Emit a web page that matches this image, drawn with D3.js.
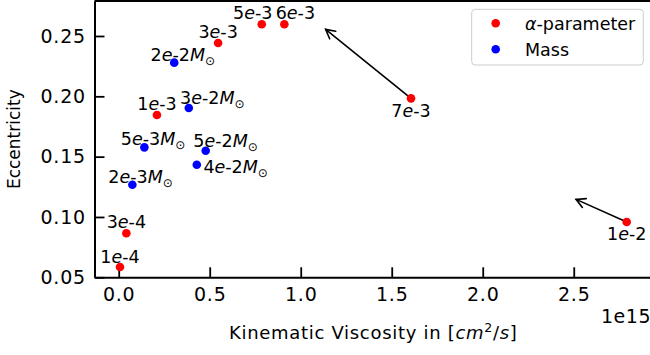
<!DOCTYPE html>
<html>
<head>
<meta charset="utf-8">
<script src="https://cdn.jsdelivr.net/npm/d3@7"></script>
<style>
  html, body { margin: 0; padding: 0; background: #fff; }
  svg { display: block; font-family: "DejaVu Sans", sans-serif; }
</style>
</head>
<body>
<svg id="chart" width="650" height="355"></svg>
<script>
// alpha-parameter runs: label, kinematic viscosity [1e15 cm^2/s], eccentricity
const alphaLabels = ["1e-4", "3e-4", "1e-3", "3e-3", "5e-3", "6e-3", "7e-3", "1e-2"];
const alphaVisc   = [0.007, 0.042, 0.210, 0.546, 0.786, 0.910, 1.606, 2.791];
const alphaEcc    = [0.0585, 0.0865, 0.1845, 0.2442, 0.2597, 0.2597, 0.1983, 0.0958];

// disc-mass runs (in solar masses)
const massLabels = ["2e-3", "5e-3", "2e-2", "3e-2", "4e-2", "5e-2"];
const massVisc   = [0.075, 0.141, 0.305, 0.385, 0.429, 0.478];
const massEcc    = [0.1267, 0.1577, 0.2279, 0.1903, 0.1433, 0.1549];

// arrows: start at an alpha run, point towards a location in data space
const arrowFrom    = ["7e-3", "1e-2"];
const arrowTipVisc = [1.137, 2.513];
const arrowTipEcc  = [0.2555, 0.1146];

// axis ticks
const xTicks = [0.0, 0.5, 1.0, 1.5, 2.0, 2.5];
const yTicks = [0.05, 0.10, 0.15, 0.20, 0.25];

// label placement (pixel offsets from each marker)
const alphaLabelOffset = [[0, -4.5], [0, -5], [0, -5], [0, -5.3], [-9, -5.3], [11, -5.3], [0, 19], [0, 18]];
const massLabelOffset  = [[-24, -1.4], [-23.6, -2.3], [-23.6, -2], [-8.7, -3.7], [6.6, 8.6], [-12.4, -3.4]];

const svg = d3.select("#chart");
const TFS = 19, LFS = 18, AFS = 17.5;

const x = d3.scaleLinear().domain([-0.133, 2.93]).range([94.5, 652]);
const y = d3.scaleLinear().domain([0.05, 0.279]).range([277.3, 1]);

// axes with inward ticks
const gx = svg.append("g").attr("transform", `translate(0,${y.range()[0]})`)
  .call(d3.axisBottom(x).tickValues(xTicks).tickFormat(d3.format(".1f"))
    .tickSizeInner(-10).tickSizeOuter(0).tickPadding(10));
const gy = svg.append("g").attr("transform", `translate(${x.range()[0]},0)`)
  .call(d3.axisLeft(y).tickValues(yTicks).tickFormat(d3.format(".2f"))
    .tickSizeInner(-10).tickSizeOuter(0).tickPadding(8.5));
[gx, gy].forEach(g => {
  g.select(".domain").attr("stroke", "#000").attr("stroke-width", 2);
  g.selectAll(".tick line").attr("stroke", "#000").attr("stroke-width", 1.8);
  g.selectAll(".tick text").attr("fill", "#000").style("font-size", TFS + "px")
    .style("letter-spacing", "0.8px").style("font-family", "DejaVu Sans");
});
// top and right spines
svg.append("line").attr("x1", x.range()[0]).attr("x2", x.range()[1])
  .attr("y1", y.range()[1]).attr("y2", y.range()[1])
  .attr("stroke", "#000").attr("stroke-width", 2);
svg.append("line").attr("x1", x.range()[1]).attr("x2", x.range()[1])
  .attr("y1", y.range()[0]).attr("y2", y.range()[1])
  .attr("stroke", "#000").attr("stroke-width", 2);

// axis labels
const xl = svg.append("text").attr("x", (x.range()[0] + x.range()[1]) / 2).attr("y", 339.3)
  .attr("text-anchor", "middle").style("font-size", LFS + "px").style("letter-spacing", "0.7px");
xl.append("tspan").text("Kinematic Viscosity in [");
xl.append("tspan").attr("font-style", "italic").text("cm");
xl.append("tspan").attr("dy", -7).style("font-size", "12.6px").text("2");
xl.append("tspan").attr("dy", 7).text("/");
xl.append("tspan").attr("font-style", "italic").text("s");
xl.append("tspan").text("]");

svg.append("text").attr("transform", `translate(20,${(y.range()[0] + y.range()[1]) / 2}) rotate(-90)`)
  .attr("text-anchor", "middle").style("font-size", "17px").text("Eccentricity");

svg.append("text").attr("x", 651).attr("y", 323.3).attr("text-anchor", "end")
  .style("font-size", TFS + "px").style("letter-spacing", "0.5px").text("1e15");

// arrows
const arrowG = svg.append("g").attr("stroke", "#000").attr("stroke-width", 1.6)
  .attr("fill", "none").attr("stroke-linecap", "round");
arrowFrom.forEach((lab, i) => {
  const k = alphaLabels.indexOf(lab);
  const x0 = x(alphaVisc[k]), y0 = y(alphaEcc[k]);
  const x1 = x(arrowTipVisc[i]), y1 = y(arrowTipEcc[i]);
  const ang = Math.atan2(y1 - y0, x1 - x0);
  const hl = 9, hw = 4.8;
  const bx = x1 - hl * Math.cos(ang), by = y1 - hl * Math.sin(ang);
  const px = -Math.sin(ang) * hw, py = Math.cos(ang) * hw;
  arrowG.append("line").attr("x1", x0).attr("y1", y0).attr("x2", x1).attr("y2", y1);
  arrowG.append("path").attr("d", `M${bx + px},${by + py}L${x1},${y1}L${bx - px},${by - py}`);
});

// mathtext-like label: mantissa, italic e, exponent
function sciLabel(sel, s) {
  const [m, e] = s.split("e");
  sel.append("tspan").text(m);
  sel.append("tspan").attr("font-style", "italic").text("e");
  sel.append("tspan").text(e);
}

// markers
const R = 4.3;
svg.append("g").selectAll("circle").data(alphaLabels).join("circle")
  .attr("cx", (d, i) => x(alphaVisc[i])).attr("cy", (d, i) => y(alphaEcc[i]))
  .attr("r", R).attr("fill", "#ff0000");
svg.append("g").selectAll("circle").data(massLabels).join("circle")
  .attr("cx", (d, i) => x(massVisc[i])).attr("cy", (d, i) => y(massEcc[i]))
  .attr("r", R).attr("fill", "#0000ff");

// annotations
alphaLabels.forEach((lab, i) => {
  const t = svg.append("text")
    .attr("x", x(alphaVisc[i]) + alphaLabelOffset[i][0])
    .attr("y", y(alphaEcc[i]) + alphaLabelOffset[i][1])
    .attr("text-anchor", "middle").style("font-size", AFS + "px");
  sciLabel(t, lab);
});
massLabels.forEach((lab, i) => {
  const t = svg.append("text")
    .attr("x", x(massVisc[i]) + massLabelOffset[i][0])
    .attr("y", y(massEcc[i]) + massLabelOffset[i][1])
    .attr("text-anchor", "start").style("font-size", AFS + "px");
  sciLabel(t, lab);
  t.append("tspan").attr("font-style", "italic").text("M");
  t.append("tspan").attr("dy", 4).style("font-size", "12px").text("\u2299");
});

// legend
const lg = svg.append("g");
lg.append("rect").attr("x", 471.7).attr("y", 9.3).attr("width", 171.6).attr("height", 55.7)
  .attr("rx", 3.5).attr("fill", "#fff").attr("fill-opacity", 0.8)
  .attr("stroke", "#cccccc").attr("stroke-width", 1);
const legendItems = [
  { color: "#ff0000", cy: 23.3 },
  { color: "#0000ff", cy: 49.3 }
];
legendItems.forEach((it, i) => {
  lg.append("circle").attr("cx", 495.7).attr("cy", it.cy).attr("r", R).attr("fill", it.color);
  const t = lg.append("text").attr("x", 525).attr("y", it.cy + 6.3).style("font-size", "17.5px");
  if (i === 0) {
    t.append("tspan").attr("font-style", "italic").text("\u03b1");
    t.append("tspan").text("-parameter");
  } else {
    t.text("Mass");
  }
});
</script>
</body>
</html>
